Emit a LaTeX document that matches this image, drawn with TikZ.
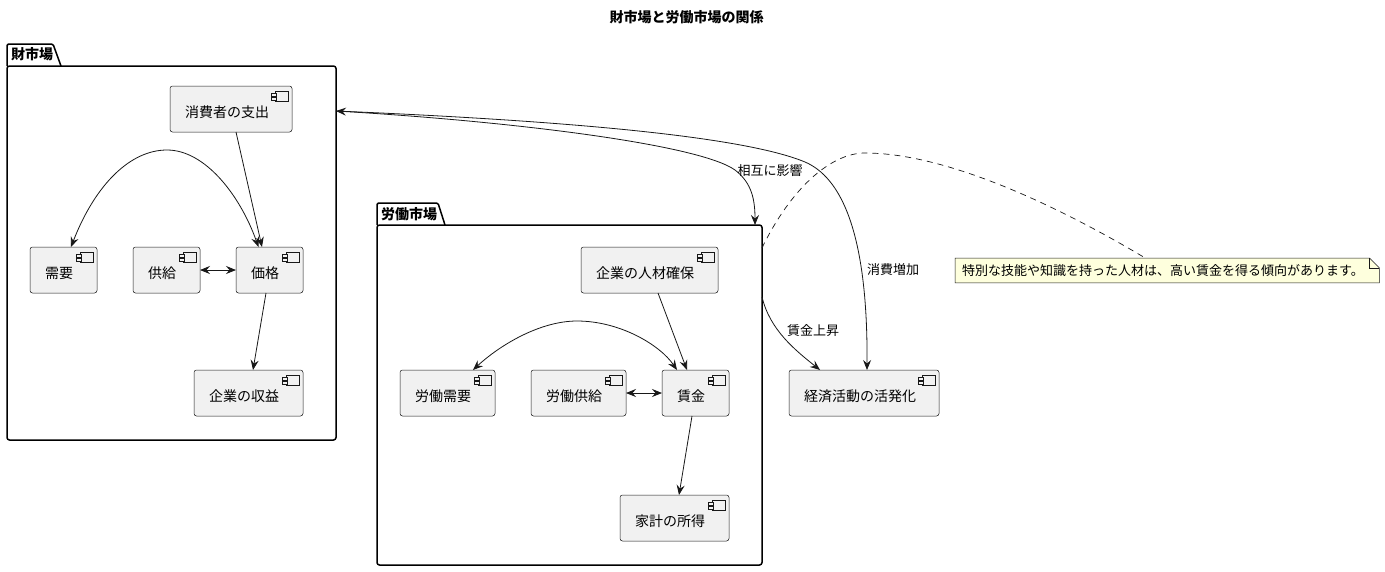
\documentclass[tikz,border=0pt]{standalone}
\usepackage{fontspec}
\setmainfont{Noto Sans CJK JP}
\usetikzlibrary{arrows.meta,backgrounds}
\definecolor{ln}{HTML}{181818}
\definecolor{cfill}{HTML}{F1F1F1}
\definecolor{nfill}{HTML}{FEFFDD}
\tikzset{
 compbox/.style={draw=ln, line width=0.5pt, fill=cfill, rounded corners=2.5pt, inner sep=0pt, outer sep=0pt, anchor=north west},
 comptext/.style={font=\fontsize{14}{16}\selectfont, anchor=west, inner sep=0pt},
 iconbox/.style={draw=ln, line width=0.5pt, fill=cfill},
 pkgbody/.style={draw=black, line width=1.5pt, rounded corners=2.5pt, inner sep=0pt, outer sep=0pt, anchor=north west},
 pkgtab/.style={draw=black, line width=1.5pt, rounded corners=1.5pt},
 pkglabel/.style={font=\bfseries\fontsize{14}{16}\selectfont, anchor=west, inner sep=0pt},
 conn/.style={draw=ln, line width=0.8pt},
 arr/.style={conn, -{Stealth[length=10pt,width=8pt,inset=3.5pt]}},
 barr/.style={conn, {Stealth[length=10pt,width=8pt,inset=3.5pt]}-{Stealth[length=10pt,width=8pt,inset=3.5pt]}},
 elabel/.style={font=\fontsize{13}{15}\selectfont, inner sep=0pt},
 notetext/.style={font=\fontsize{13}{15}\selectfont, text width=410pt, align=left, inner xsep=7pt, inner ysep=0pt, minimum height=24.5pt, anchor=north west},
 notebox/.style={draw=ln, line width=0.5pt, fill=nfill},
 notedash/.style={draw=ln, line width=0.7pt, dash pattern=on 6pt off 5pt},
}
\newcommand\comp[6]{%
 \node[compbox, minimum width={(#4-#2)*1pt}, minimum height={(#5-#3)*1pt}] (#1) at (#2,#3) {};
 \node[comptext] (#1-t) at ([xshift=15pt,yshift=-3.5pt]#1.west) {#6};
 \draw[iconbox] ([xshift=-16.7pt,yshift=-5.4pt]#1.north east) rectangle ([xshift=-3.6pt,yshift=-15.4pt]#1.north east);
 \draw[iconbox] ([xshift=-21pt,yshift=-7.6pt]#1.north east) rectangle ([xshift=-15.4pt,yshift=-10.2pt]#1.north east);
 \draw[iconbox] ([xshift=-21pt,yshift=-11.4pt]#1.north east) rectangle ([xshift=-15.4pt,yshift=-14pt]#1.north east);
}
\begin{document}
\begin{tikzpicture}[x=1pt,y=-1pt]
\useasboundingbox (0,0) rectangle (1385,571);
\node[font=\bfseries\fontsize{14}{16}\selectfont, inner sep=0pt] (title) at (686.5,17) {財市場と労働市場の関係};

% packages
\node[pkgbody, minimum width=329pt, minimum height=374pt] (gm) at (7,66) {};
\draw[pkgtab] (gm.north west) -- ++(0,-22) -- ++(46,0) -- ++(8,22);
\node[pkglabel] (gm-tab) at (11,54.5) {財市場};

\node[pkgbody, minimum width=385pt, minimum height=340pt] (lm) at (377,225) {};
\draw[pkgtab] (lm.north west) -- ++(0,-22) -- ++(61,0) -- ++(7,22);
\node[pkglabel] (lm-tab) at (381,214) {労働市場};

% components
\comp{shohi}{170}{86}{292}{132}{消費者の支出}
\comp{juyo}{30}{247}{97}{293}{需要}
\comp{kyokyu}{133}{247}{200}{293}{供給}
\comp{kakaku}{236}{247}{303}{293}{価格}
\comp{shueki}{194}{370}{303}{416}{企業の収益}
\comp{jinzai}{581}{247}{718}{293}{企業の人材確保}
\comp{rjuyo}{400}{370}{495}{416}{労働需要}
\comp{rkyokyu}{531}{370}{626}{416}{労働供給}
\comp{chingin}{662}{370}{729}{416}{賃金}
\comp{kakei}{620}{495}{729}{541}{家計の所得}
\comp{keizai}{789}{370}{939}{416}{経済活動の活発化}

% note
\node[notetext] (note) at (955,258) {特別な技能や知識を持った人材は、高い賃金を得る傾向があります。};
\begin{scope}[on background layer]
\draw[notebox] (note.north west) -- ([xshift=-10pt]note.north east) -- ([yshift=-10pt]note.north east) -- (note.south east) -- (note.south west) -- cycle;
\end{scope}
\draw[draw=ln, line width=0.5pt] ([xshift=-10pt]note.north east) -- ([xshift=-10pt,yshift=-10pt]note.north east) -- ([yshift=-10pt]note.north east);

% connectors in goods market
\draw[arr] ([xshift=5pt]shohi.south) -- ([xshift=-7.5pt]kakaku.north);
\draw[barr] ([xshift=7.5pt]juyo.north) .. controls (95,185) and (130,150) .. (167,150) .. controls (205,150) and (240,195) .. ([xshift=-11pt]kakaku.north);
\draw[barr] (kyokyu.east) -- (kakaku.west);
\draw[arr] ([xshift=-3.5pt]kakaku.south) -- ([xshift=4.5pt]shueki.north);

% connectors in labour market
\draw[arr] ([xshift=8.5pt]jinzai.south) -- ([xshift=-8.5pt]chingin.north);
\draw[barr] ([xshift=25.5pt]rjuyo.north) .. controls (500,345) and (540,321) .. (577,321) .. controls (620,321) and (660,345) .. ([xshift=-18.5pt]chingin.north);
\draw[barr] (rkyokyu.east) -- (chingin.west);
\draw[arr] ([xshift=-3.5pt]chingin.south) -- ([xshift=4.5pt]kakei.north);

% between packages
\draw[barr] ([yshift=-45pt]gm.north east) .. controls (520,122) and (700,145) .. (735,170) .. controls (752,183) and (755,200) .. ([xshift=-7pt]lm.north east);
\node[elabel] (l1) at (770,171) {相互に影響};
\draw[arr] ([yshift=-45pt]gm.north east) .. controls (550,120) and (740,135) .. (805,162) .. controls (840,177) and (868,230) .. ([xshift=3pt]keizai.north);
\node[elabel] (l2) at (893,270) {消費増加};
\draw[arr] ([yshift=-72pt]lm.north east) .. controls (770,330) and (795,350) .. ([xshift=-44pt]keizai.north);
\node[elabel] (l3) at (813,331) {賃金上昇};

% note connector
\draw[notedash] ([yshift=-23pt]lm.north east) .. controls (790,190) and (830,153) .. (865,153) .. controls (960,153) and (1090,225) .. ([xshift=-22pt]note.north);
\end{tikzpicture}
\end{document}
